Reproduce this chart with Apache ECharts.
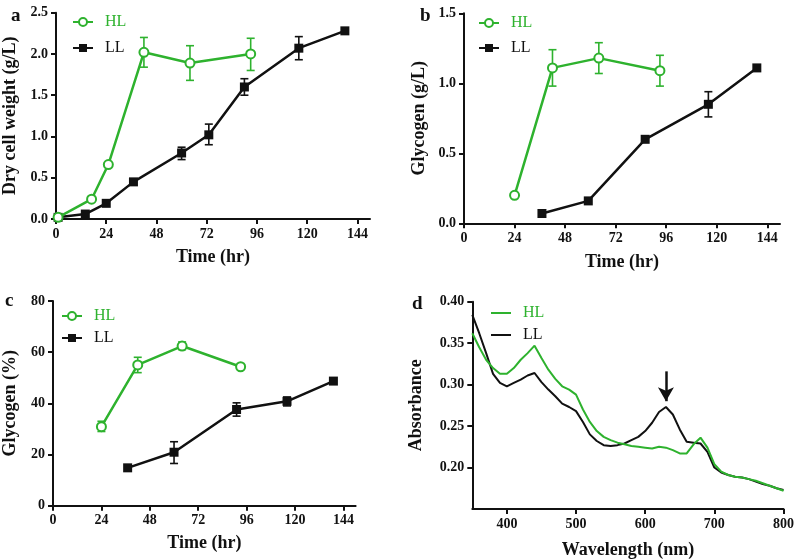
<!DOCTYPE html>
<html><head><meta charset="utf-8">
<script src="https://cdn.jsdelivr.net/npm/echarts@6/dist/echarts.min.js"></script>
<style>html,body{margin:0;padding:0;background:#fff}#c{width:797px;height:560px}</style>
</head><body><div id="c"></div>
<script>
// ---------- data ----------
const timeTicks = [0, 24, 48, 72, 96, 120, 144];
// panel a: dry cell weight (g/L)
const aHLx = [1, 17, 25, 42, 64, 93];
const aHLy = [0.02, 0.24, 0.66, 2.02, 1.89, 2.00];
const aHLlo = [null, null, null, 1.84, 1.68, 1.80];
const aHLhi = [null, null, null, 2.20, 2.10, 2.19];
const aLLx = [1, 14, 24, 37, 60, 73, 90, 116, 138];
const aLLy = [0.02, 0.06, 0.19, 0.45, 0.80, 1.02, 1.60, 2.07, 2.28];
const aLLlo = [null, null, null, null, 0.72, 0.90, 1.50, 1.93, null];
const aLLhi = [null, null, null, null, 0.87, 1.15, 1.70, 2.21, null];
// panel b: glycogen (g/L)
const bHLx = [24, 42, 64, 93];
const bHLy = [0.20, 1.11, 1.18, 1.09];
const bHLlo = [null, 0.98, 1.07, 0.98];
const bHLhi = [null, 1.24, 1.29, 1.20];
const bLLx = [37, 59, 86, 116, 139];
const bLLy = [0.07, 0.16, 0.60, 0.85, 1.11];
const bLLlo = [null, null, null, 0.76, null];
const bLLhi = [null, null, null, 0.94, null];
// panel c: glycogen (%)
const cHLx = [24, 42, 64, 93];
const cHLy = [30.9, 55.0, 62.4, 54.3];
const cHLlo = [29.0, 52.0, 61.0, null];
const cHLhi = [33.0, 58.0, 64.0, null];
const cLLx = [37, 60, 91, 116, 139];
const cLLy = [14.8, 20.9, 37.6, 40.8, 48.7];
const cLLlo = [null, 16.5, 35.0, 39.0, null];
const cLLhi = [null, 25.0, 40.2, 42.5, null];
// panel d: absorbance spectra
const wavelength = [350,360,370,380,390,400,410,420,430,440,450,460,470,480,490,500,510,520,530,540,550,560,570,580,590,600,610,620,630,640,650,660,670,680,690,700,710,720,730,740,750,760,770,780,790,800];
const dHL = [0.362,0.345,0.330,0.320,0.313,0.313,0.320,0.330,0.338,0.347,0.332,0.318,0.307,0.298,0.294,0.288,0.270,0.255,0.244,0.237,0.233,0.230,0.228,0.226,0.225,0.224,0.223,0.225,0.224,0.221,0.217,0.217,0.228,0.236,0.224,0.204,0.195,0.191,0.189,0.188,0.186,0.184,0.181,0.178,0.175,0.172];
const dLL = [0.384,0.362,0.338,0.313,0.302,0.298,0.302,0.306,0.311,0.314,0.303,0.294,0.286,0.277,0.273,0.268,0.255,0.240,0.232,0.227,0.226,0.227,0.229,0.233,0.237,0.244,0.254,0.267,0.273,0.264,0.246,0.231,0.230,0.229,0.219,0.200,0.194,0.191,0.189,0.188,0.186,0.183,0.180,0.178,0.175,0.173];
const waveTicks = [400, 500, 600, 700, 800];
const absTicks = [0.20, 0.25, 0.30, 0.35, 0.40];
const arrowAt = [630, 0.316, 0.280];

// ---------- style ----------
const GREEN = '#2eb22e';
const BLACK = '#111111';
const FONT = 'Liberation Serif';
const LINE_ICON = 'path://M0,0 L40,0 L40,4 L0,4 Z';

function pairs(xs, ys) { return xs.map((x, i) => [x, ys[i]]); }
function errs(xs, lo, hi) {
  const out = [];
  xs.forEach((x, i) => { if (lo[i] != null) out.push([x, lo[i], hi[i]]); });
  return out;
}
function errSeries(name, data, color, idx) {
  return {
    name: name, type: 'custom', xAxisIndex: idx, yAxisIndex: idx, z: 3, silent: true,
    data: data,
    renderItem: function (params, api) {
      const x = api.value(0), lo = api.value(1), hi = api.value(2);
      const a = api.coord([x, lo]), b = api.coord([x, hi]);
      const w = 4;
      const st = { stroke: color, lineWidth: 1.6 };
      return { type: 'group', children: [
        { type: 'line', shape: { x1: a[0], y1: a[1], x2: b[0], y2: b[1] }, style: st },
        { type: 'line', shape: { x1: a[0] - w, y1: a[1], x2: a[0] + w, y2: a[1] }, style: st },
        { type: 'line', shape: { x1: b[0] - w, y1: b[1], x2: b[0] + w, y2: b[1] }, style: st }
      ]};
    }
  };
}
function hlSeries(data, idx) {
  return { name: 'HL', type: 'line', xAxisIndex: idx, yAxisIndex: idx, data: data, z: 4,
    symbol: 'emptyCircle', symbolSize: 9, color: GREEN,
    lineStyle: { width: 2.5, color: GREEN }, itemStyle: { borderWidth: 1.8, color: GREEN } };
}
function llSeries(data, idx) {
  return { name: 'LL', type: 'line', xAxisIndex: idx, yAxisIndex: idx, data: data, z: 2,
    symbol: 'rect', symbolSize: 9, color: BLACK,
    lineStyle: { width: 2.5, color: BLACK }, itemStyle: { color: BLACK } };
}
const axisLineS = { show: true, onZero: false, lineStyle: { color: BLACK, width: 2 } };
const tickS = { show: true, length: 5, lineStyle: { color: BLACK, width: 2 } };
const labelS = { color: BLACK, fontFamily: FONT, fontWeight: 'bold', fontSize: 14, margin: 8 };
const nameS = { color: BLACK, fontFamily: FONT, fontWeight: 'bold', fontSize: 18 };

function timeAxis(idx, gap) {
  return { type: 'value', gridIndex: idx, min: 0, max: 150, name: 'Time (hr)', nameLocation: 'middle', nameGap: gap,
    nameTextStyle: nameS, axisLine: axisLineS,
    axisTick: Object.assign({}, tickS, { customValues: timeTicks }),
    axisLabel: Object.assign({}, labelS, { customValues: timeTicks }),
    splitLine: { show: false } };
}
function valAxis(idx, min, max, interval, name, gap, dec) {
  return { type: 'value', gridIndex: idx, min: min, max: max, interval: interval, name: name,
    nameLocation: 'middle', nameGap: gap, nameTextStyle: nameS, axisLine: axisLineS, axisTick: tickS,
    axisLabel: Object.assign({}, labelS, { formatter: v => v.toFixed(dec) }), splitLine: { show: false } };
}
function legendAt(left, top, gap, names, plain) {
  const d0 = { name: names[0], textStyle: { color: GREEN } };
  const d1 = { name: names[1], textStyle: { color: BLACK } };
  if (plain) { d0.icon = LINE_ICON; d1.icon = LINE_ICON; }
  return { left: left, top: top, orient: 'vertical', itemWidth: 20, itemHeight: 10, itemGap: gap,
    data: [d0, d1],
    formatter: n => n.replace(' (d)', ''),
    textStyle: { fontFamily: FONT, fontSize: 16, padding: [0, 0, 0, 7] } };
}
const letterS = { fontFamily: FONT, fontWeight: 'bold', fontSize: 19, color: BLACK };

const option = {
  animation: false,
  backgroundColor: '#fff',
  title: [
    { text: 'a', left: 6, top: 2, textStyle: letterS },
    { text: 'b', left: 415, top: 2, textStyle: letterS },
    { text: 'c', left: 0, top: 287, textStyle: letterS },
    { text: 'd', left: 407, top: 290, textStyle: letterS }
  ],
  legend: [
    legendAt(67, 9, 10, ['HL', 'LL']),
    legendAt(473, 10, 9, ['HL', 'LL']),
    legendAt(56, 303, 6, ['HL', 'LL']),
    legendAt(486, 300, 6, ['HL (d)', 'LL (d)'], true)
  ],
  grid: [
    { left: 55, top: 12.7, width: 315, height: 206.3 },
    { left: 464, top: 13.3, width: 316, height: 210 },
    { left: 49.3, top: 301, width: 306.3, height: 204.7 },
    { left: 472.3, top: 301.7, width: 313.4, height: 208.3 }
  ],
  xAxis: [
    timeAxis(0, 29),
    timeAxis(1, 30),
    timeAxis(2, 29),
    { type: 'value', gridIndex: 3, min: 350, max: 800, name: 'Wavelength (nm)', nameLocation: 'middle', nameGap: 32,
      nameTextStyle: nameS, axisLine: axisLineS,
      axisTick: Object.assign({}, tickS, { customValues: waveTicks }),
      axisLabel: Object.assign({}, labelS, { customValues: waveTicks }), splitLine: { show: false } }
  ],
  yAxis: [
    valAxis(0, 0, 2.5, 0.5, 'Dry cell weight (g/L)', 37, 1),
    valAxis(1, 0, 1.5, 0.5, 'Glycogen (g/L)', 36, 1),
    valAxis(2, 0, 80, 20, 'Glycogen (%)', 34, 0),
    { type: 'value', gridIndex: 3, min: 0.15, max: 0.40, name: 'Absorbance', nameLocation: 'middle', nameGap: 47,
      nameTextStyle: nameS, axisLine: axisLineS,
      axisTick: Object.assign({}, tickS, { customValues: absTicks }),
      axisLabel: Object.assign({}, labelS, { customValues: absTicks, formatter: v => v.toFixed(2) }),
      splitLine: { show: false } }
  ],
  series: [
    llSeries(pairs(aLLx, aLLy), 0), errSeries('LL', errs(aLLx, aLLlo, aLLhi), BLACK, 0),
    hlSeries(pairs(aHLx, aHLy), 0), errSeries('HL', errs(aHLx, aHLlo, aHLhi), GREEN, 0),
    llSeries(pairs(bLLx, bLLy), 1), errSeries('LL', errs(bLLx, bLLlo, bLLhi), BLACK, 1),
    hlSeries(pairs(bHLx, bHLy), 1), errSeries('HL', errs(bHLx, bHLlo, bHLhi), GREEN, 1),
    llSeries(pairs(cLLx, cLLy), 2), errSeries('LL', errs(cLLx, cLLlo, cLLhi), BLACK, 2),
    hlSeries(pairs(cHLx, cHLy), 2), errSeries('HL', errs(cHLx, cHLlo, cHLhi), GREEN, 2),
    { name: 'LL (d)', type: 'line', xAxisIndex: 3, yAxisIndex: 3, data: pairs(wavelength, dLL),
      symbol: 'none', color: BLACK, lineStyle: { width: 2, color: BLACK }, z: 2,
      markLine: { silent: true, symbol: ['none', 'arrow'], symbolSize: [12, 14], label: { show: false },
        lineStyle: { color: BLACK, width: 2.5, type: 'solid' },
        data: [[{ coord: [arrowAt[0], arrowAt[1]] }, { coord: [arrowAt[0], arrowAt[2]] }]] } },
    { name: 'HL (d)', type: 'line', xAxisIndex: 3, yAxisIndex: 3, data: pairs(wavelength, dHL),
      symbol: 'none', color: GREEN, lineStyle: { width: 2, color: GREEN }, z: 3 }
  ]
};
const chart = echarts.init(document.getElementById('c'), null, { renderer: 'canvas' });
chart.setOption(option);
</script></body></html>
